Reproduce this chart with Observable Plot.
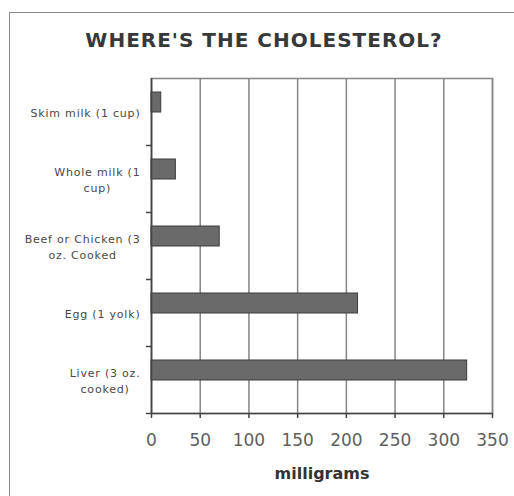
<!DOCTYPE html>
<html>
<head>
<meta charset="utf-8">
<script src="https://cdn.jsdelivr.net/npm/d3@7"></script>
<script src="https://cdn.jsdelivr.net/npm/@observablehq/plot@0.6"></script>
<style>
  html, body { margin: 0; padding: 0; background: #ffffff; overflow: hidden; }
  #wrap { position: relative; width: 514px; height: 496px; }
  #border { position: absolute; left: 9px; top: 12px; width: 600px; height: 600px;
            border-top: 1.5px solid #8a8a8a; border-left: 1.5px solid #8a8a8a; }
  #title { position: relative; height: 60px; }
  #title span { position: absolute; top: 30px; left: 14px; right: 0; text-align: center;
                font-family: "DejaVu Sans", sans-serif; font-weight: bold; font-size: 20px;
                line-height: 20px; letter-spacing: 1px; color: #383838; }
  #chart svg { display: block; }
</style>
</head>
<body>
<div id="wrap">
  <div id="border"></div>
  <div id="title"><span></span></div>
  <div id="chart"></div>
</div>
<script>
const title = "WHERE'S THE CHOLESTEROL?";
const xLabel = "milligrams";
const categories = [
  "Skim milk (1 cup)",
  "Whole milk (1\ncup)",
  "Beef or Chicken (3\noz. Cooked",
  "Egg (1 yolk)",
  "Liver (3 oz.\ncooked)"
];
const values = [10, 25, 70, 212, 324];
const xTicks = [0, 50, 100, 150, 200, 250, 300, 350];

const data = categories.map((c, i) => ({food: c, mg: values[i]}));

document.querySelector("#title span").textContent = title;

const chart = Plot.plot({
  width: 514,
  height: 436,
  marginLeft: 151,
  marginRight: 22,
  marginTop: 18,
  marginBottom: 83,
  style: {fontFamily: "DejaVu Sans, sans-serif", background: "transparent", overflow: "visible"},
  x: {domain: [0, 350], axis: null},
  y: {domain: categories, padding: 0, axis: null},
  marks: [
    Plot.ruleX(xTicks, {stroke: "#858585", strokeWidth: 1.5}),
    Plot.frame({stroke: "#858585", strokeWidth: 1.5}),
    Plot.barX(data, {x: "mg", y: "food", fill: "#6a6a6a", stroke: "#3c3c3c", strokeWidth: 1,
                     insetTop: 14, insetBottom: 33}),
    Plot.ruleX([0], {stroke: "#444", strokeWidth: 1.5}),
    Plot.ruleY([categories[categories.length - 1]], {dy: 33.5, stroke: "#444", strokeWidth: 1.5}),
    Plot.ruleY(categories, {x1: 0, x2: 0, dy: 33.5, insetLeft: -5, stroke: "#444", strokeWidth: 1.5}),
    Plot.axisX({ticks: xTicks, tickSize: 5, tickPadding: 15, fontSize: 17, fill: "#606060",
                stroke: "#444", strokeWidth: 1.5, label: null}),
    Plot.text(categories, {y: d => d, frameAnchor: "left", textAnchor: "end", dx: -11,
                           lineHeight: 1.45, fontSize: 11, fill: "#484848"}),
    Plot.text([xLabel], {frameAnchor: "bottom", lineAnchor: "bottom", dy: 65,
                         fontWeight: "bold", fontSize: 16, fill: "#333"})
  ]
});
document.getElementById("chart").append(chart);

// category labels: widen slightly and center wrapped lines within each right-aligned block
const flat = new Set(categories.map(c => c.replace(/\n/g, "")));
chart.querySelectorAll("text").forEach(t => {
  if (!flat.has(t.textContent)) return;
  t.style.letterSpacing = "0.8px";
  const spans = t.querySelectorAll("tspan");
  if (spans.length < 2) return;
  let w = 0;
  spans.forEach(s => { w = Math.max(w, s.getComputedTextLength()); });
  t.setAttribute("text-anchor", "middle");
  spans.forEach(s => s.setAttribute("x", -w / 2));
});
</script>
</body>
</html>
